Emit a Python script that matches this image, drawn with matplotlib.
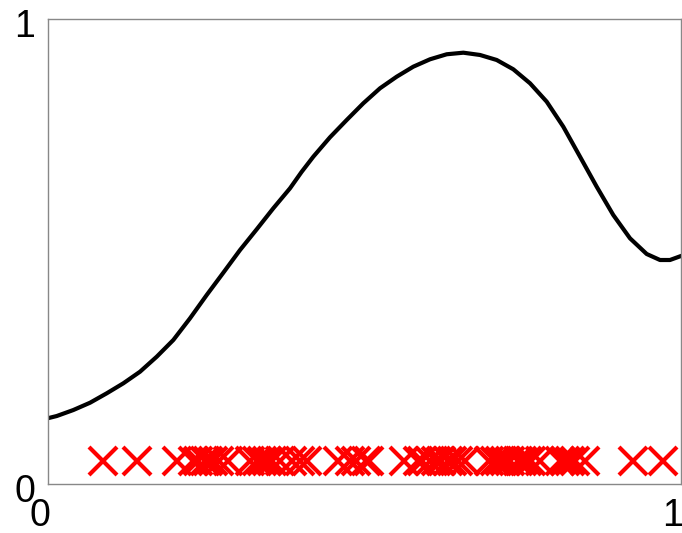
import numpy as np
import matplotlib
matplotlib.use('Agg')
import matplotlib.pyplot as plt
import matplotlib.transforms as mtransforms

# curve (x, y in axis units)
curve_x = [0.0, 0.0145, 0.0407, 0.0671, 0.0935, 0.1197, 0.1460, 0.1724, 0.1986, 0.2249,
           0.2513, 0.2775, 0.3039, 0.3302, 0.3564, 0.3828, 0.4010, 0.4196, 0.4459, 0.4723,
           0.4985, 0.5249, 0.5512, 0.5774, 0.6038, 0.6302, 0.6564, 0.6827, 0.7091, 0.7353,
           0.7617, 0.7880, 0.8142, 0.8406, 0.8669, 0.8931, 0.9195, 0.9459, 0.9669, 0.9826, 1.0]
curve_y = [0.1413, 0.1462, 0.1591, 0.1748, 0.1951, 0.2166, 0.2415, 0.2738, 0.3097, 0.3563,
           0.4065, 0.4544, 0.5032, 0.5477, 0.5929, 0.6359, 0.6710, 0.7039, 0.7456, 0.7828,
           0.8187, 0.8510, 0.8759, 0.8974, 0.9133, 0.9241, 0.9275, 0.9226, 0.9118, 0.8918,
           0.8617, 0.8222, 0.7684, 0.7039, 0.6394, 0.5785, 0.5284, 0.4946, 0.4817, 0.4817, 0.4903]

# sample locations (red crosses)
samples_x = [0.088, 0.142, 0.205, 0.229, 0.238, 0.248, 0.254, 0.262, 0.270, 0.285,
             0.320, 0.330, 0.339, 0.347, 0.355, 0.367, 0.386, 0.399, 0.409,
             0.459, 0.478, 0.487, 0.502, 0.508,
             0.562, 0.585, 0.591, 0.604, 0.614, 0.621, 0.632, 0.639, 0.648, 0.659,
             0.697, 0.707, 0.715, 0.722, 0.730, 0.743, 0.749, 0.757, 0.763, 0.778,
             0.809, 0.817, 0.825, 0.833, 0.849, 0.924, 0.972]
samples_y = 0.05

tick_vals = [0, 1]
tick_labels = ['0', '1']

plt.rcParams['font.family'] = ['Liberation Sans', 'DejaVu Sans']

fig = plt.figure(figsize=(6.82, 5.33), dpi=100)
ax = fig.add_axes([0.0697, 0.0919, 0.9288, 0.8725])

ax.plot(curve_x, curve_y, color='black', linewidth=3.0, solid_joinstyle='round')
ax.plot(samples_x, [samples_y] * len(samples_x), linestyle='none', marker='x',
        color='#ff0000', markersize=19.5, markeredgewidth=3.0)

ax.set_xlim(0, 1)
ax.set_ylim(0, 1)
ax.set_xticks(tick_vals)
ax.set_xticklabels(tick_labels)
ax.set_yticks(tick_vals)
ax.set_yticklabels(tick_labels)
ax.tick_params(length=0, labelsize=27)
ax.tick_params(axis='x', pad=10)
ax.tick_params(axis='y', pad=9)

# labels sit a little left / lower than the ticks in the original
dx = mtransforms.ScaledTranslation(-8 / 100, 0, fig.dpi_scale_trans)
dy = mtransforms.ScaledTranslation(0, -4 / 100, fig.dpi_scale_trans)
for lab in ax.get_xticklabels():
    lab.set_transform(lab.get_transform() + dx)
for lab in ax.get_yticklabels():
    lab.set_transform(lab.get_transform() + dy)

for s in ax.spines.values():
    s.set_color('#888888')
    s.set_linewidth(1.0)

fig.savefig('out.png', dpi=100)
